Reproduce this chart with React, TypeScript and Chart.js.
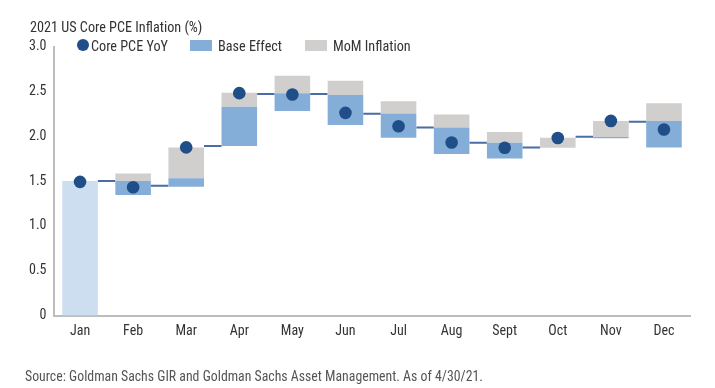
import React, { useEffect, useRef } from "react";
import { Chart, registerables } from "chart.js";

Chart.register(...registerables);

const months = ["Jan", "Feb", "Mar", "Apr", "May", "Jun", "Jul", "Aug", "Sept", "Oct", "Nov", "Dec"];
// Core PCE YoY (dots)
const coreYoY = [1.49, 1.43, 1.875, 2.48, 2.465, 2.26, 2.11, 1.93, 1.87, 1.98, 2.17, 2.075];
// Base effect floating bars [low, high]
const baseLow = [0, 1.343, 1.436, 1.89, 2.28, 2.124, 1.982, 1.8, 1.752, null, 1.978, 1.875];
const baseHigh = [1.5, 1.5, 1.53, 2.328, 2.48, 2.458, 2.254, 2.098, 1.927, null, 1.992, 2.168];
// MoM inflation floating bars [low, high]
const momLow = [null, 1.5, 1.53, 2.328, 2.48, 2.458, 2.254, 2.098, 1.927, 1.871, 1.992, 2.168];
const momHigh = [null, 1.585, 1.875, 2.484, 2.673, 2.618, 2.39, 2.243, 2.046, 1.982, 2.168, 2.366];
// connector level between month i and month i+1
const stepLevel = [1.5, 1.447, 1.89, 2.47, 2.47, 2.25, 2.098, 1.927, 1.875, 1.993, 2.16];
const yTicks = [0, 0.5, 1.0, 1.5, 2.0, 2.5, 3.0];

const FONT = "'Roboto Condensed', 'Liberation Sans Narrow', 'Arial Narrow', 'DejaVu Sans Condensed', Roboto, sans-serif";
const BLUE = "#84aed7";
const JAN_BLUE = "#cddef0";
const GRAY = "#d0cfce";
const NAVY = "#1f4e88";
const LINE = "#4a6da5";
const TEXT = "#333333";
const BAR_PCT = 0.67;

export default function App() {
  const ref = useRef<HTMLCanvasElement | null>(null);

  useEffect(() => {
    if (!ref.current) return;
    const half = BAR_PCT / 2;
    const connector: any[] = [];
    stepLevel.forEach((lv, i) => {
      connector.push({ x: i + half, y: lv });
      connector.push({ x: i + 1 - half, y: lv });
      connector.push({ x: i + 0.5, y: null });
    });
    const chart = new Chart(ref.current, {
      type: "bar",
      data: {
        labels: months,
        datasets: [
          {
            type: "line",
            label: "Core PCE YoY",
            data: coreYoY,
            showLine: false,
            pointRadius: 6.3,
            pointHoverRadius: 6.3,
            pointBackgroundColor: NAVY,
            pointBorderWidth: 0,
            borderColor: NAVY,
            order: 0,
            xAxisID: "x",
          } as any,
          {
            type: "bar",
            label: "Base Effect",
            data: baseLow.map((l, i) => (l === null ? null : [l, baseHigh[i] as number])),
            backgroundColor: months.map((_, i) => (i === 0 ? JAN_BLUE : BLUE)),
            borderWidth: 0,
            grouped: false,
            barPercentage: BAR_PCT,
            categoryPercentage: 1,
            order: 2,
            xAxisID: "x",
          } as any,
          {
            type: "bar",
            label: "MoM Inflation",
            data: momLow.map((l, i) => (l === null ? null : [l, momHigh[i] as number])),
            backgroundColor: GRAY,
            borderWidth: 0,
            grouped: false,
            barPercentage: BAR_PCT,
            categoryPercentage: 1,
            order: 2,
            xAxisID: "x",
          } as any,
          {
            type: "line",
            label: "connector",
            data: connector,
            borderColor: LINE,
            borderWidth: 2,
            pointRadius: 0,
            spanGaps: false,
            order: 3,
            xAxisID: "x2",
          } as any,
        ],
      },
      options: {
        animation: false,
        responsive: false,
        maintainAspectRatio: false,
        layout: { padding: { top: 46.5, right: 24.5, bottom: 42.5, left: 0 } },
        plugins: { legend: { display: false }, tooltip: { enabled: false } },
        scales: {
          x: {
            type: "category",
            offset: true,
            grid: { display: false, drawTicks: false },
            border: { display: true, color: "#bdbdbd", width: 2 },
            ticks: { color: TEXT, font: { family: FONT, size: 14 }, padding: 8, maxRotation: 0 },
            afterFit: (s: any) => {
              s.height = 30;
            },
          },
          x2: {
            type: "linear",
            display: false,
            offset: false,
            grid: { offset: false },
            min: -0.5,
            max: 11.5,
          },
          y: {
            min: 0,
            max: 3,
            afterBuildTicks: (s: any) => {
              s.ticks = yTicks.map((v) => ({ value: v }));
            },
            grid: { display: false, drawTicks: false },
            border: { display: true, color: "#bdbdbd", width: 2 },
            ticks: {
              color: TEXT,
              font: { family: FONT, size: 14 },
              padding: 7,
              callback: (v: any) => (Number(v) === 0 ? "0" : Number(v).toFixed(1)),
            },
            afterFit: (s: any) => {
              s.width = 53.5;
            },
          },
        },
      } as any,
    });
    return () => chart.destroy();
  }, []);

  const legendText: React.CSSProperties = {
    position: "absolute",
    top: 36.5,
    fontFamily: FONT,
    fontSize: 14.2,
    color: TEXT,
    lineHeight: "18px",
    whiteSpace: "nowrap",
  };

  return (
    <div style={{ position: "absolute", left: 0, top: 0, width: 715, height: 388, background: "#fff", overflow: "hidden" }}>
      <canvas ref={ref} width={715} height={388} style={{ position: "absolute", left: 0, top: 0, width: 715, height: 388 }} />
      <div style={{ position: "absolute", left: 30, top: 17.5, fontFamily: FONT, fontSize: 14.2, color: TEXT, lineHeight: "18px", whiteSpace: "nowrap" }}>
        2021 US Core PCE Inflation (%)
      </div>
      <div style={{ position: "absolute", left: 76.5, top: 38.5, width: 12.5, height: 12.5, borderRadius: "50%", background: NAVY }} />
      <div style={{ ...legendText, left: 91 }}>Core PCE YoY</div>
      <div style={{ position: "absolute", left: 190, top: 40, width: 22, height: 11, background: BLUE }} />
      <div style={{ ...legendText, left: 218 }}>Base Effect</div>
      <div style={{ position: "absolute", left: 305, top: 40, width: 22, height: 11, background: GRAY }} />
      <div style={{ ...legendText, left: 333 }}>MoM Inflation</div>
      <div style={{ position: "absolute", left: 25, top: 367.5, fontFamily: FONT, fontSize: 13.8, color: "#555", lineHeight: "16px", whiteSpace: "nowrap" }}>
        Source: Goldman Sachs GIR and Goldman Sachs Asset Management. As of 4/30/21.
      </div>
    </div>
  );
}
